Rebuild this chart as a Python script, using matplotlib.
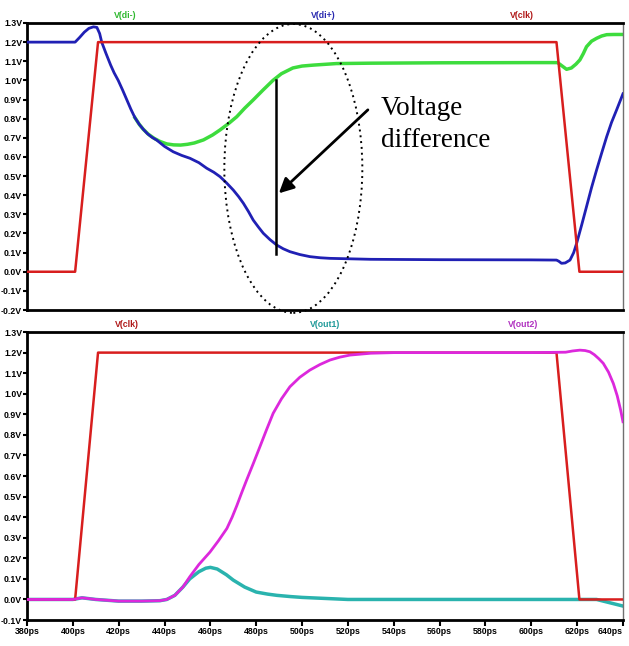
import numpy as np
import matplotlib
matplotlib.use("Agg")
import matplotlib.pyplot as plt
from matplotlib.patches import Ellipse

# clock (same in both panels)
t_clk = [380, 401, 411, 611, 621, 640]
v_clk = [0.0, 0.0, 1.2, 1.2, 0.0, 0.0]

# V(di+) blue
t_dip = [380, 401, 403, 405, 407, 409, 410.5, 411.7, 412.6, 414.5, 416.5, 418, 419.8,
         421.7, 423.5, 425.3, 427.1, 429, 430.7, 432.5, 434.5, 436.6, 440, 443.8,
         447.5, 451.1, 455, 458.4, 461.5, 464.2, 467, 470, 472.3, 474.4, 476.6, 478.7,
         481, 483.1, 486, 488.9, 491.8, 494.7, 499, 503.4, 508, 512.2, 530, 560, 600,
         611, 612, 613.2, 614.8, 616.9, 618.5, 619.8, 622, 624.1, 626.3, 628.5, 630.7,
         632.9, 635, 637.2, 640]
v_dip = [1.2, 1.2, 1.225, 1.252, 1.272, 1.28, 1.277, 1.245, 1.2, 1.14, 1.08, 1.04, 1.0,
         0.95, 0.9, 0.85, 0.805, 0.77, 0.745, 0.722, 0.703, 0.688, 0.655, 0.627,
         0.608, 0.593, 0.57, 0.541, 0.52, 0.497, 0.465, 0.427, 0.393, 0.358, 0.315, 0.27,
         0.233, 0.201, 0.168, 0.14, 0.12, 0.105, 0.09, 0.079, 0.073, 0.07, 0.065, 0.063, 0.062,
         0.061, 0.055, 0.044, 0.046, 0.061, 0.1, 0.149, 0.245, 0.34, 0.44, 0.532, 0.62,
         0.706, 0.78, 0.845, 0.93]

# V(di-) green (hidden under V(di+) before ~430ps)
t_dim = [427.1, 429, 430.7, 433, 435.5, 438, 441, 444, 447, 450, 453, 457, 461, 464.2,
         468, 471.5, 475, 478.7, 483, 487.3, 491, 496, 500, 505, 515, 530, 560, 600,
         611.5, 613.5, 615.4, 617.5, 619.5, 621.2, 622.7, 624.1, 626.3, 628.5, 630.7,
         632.9, 636, 640]
v_dim = [0.805, 0.77, 0.745, 0.718, 0.697, 0.681, 0.668, 0.663, 0.662, 0.666, 0.673, 0.689,
         0.715, 0.741, 0.775, 0.81, 0.855, 0.898, 0.95, 1.0, 1.035, 1.065, 1.075, 1.08,
         1.088, 1.09, 1.092, 1.093, 1.093, 1.075, 1.058, 1.065, 1.085, 1.107, 1.14, 1.176,
         1.205, 1.22, 1.232, 1.239, 1.24, 1.24]

# V(out2) magenta
t_out2 = [380, 400, 404, 410, 420, 430, 438, 441, 444.5, 448, 451, 455, 459.8, 463.5,
          467.2, 469.5, 471.5, 473.7, 475.8, 478.7, 481.6, 484.5, 487.4, 491, 494.7,
          499, 503.4, 507.8, 512.2, 516.5, 520.9, 530, 540, 560, 600, 615, 618, 621.2,
          623.5, 625.6, 627.5, 629.5, 631.4, 633.7, 635.8, 637.5, 639, 640]
v_out2 = [0.0, 0.0, 0.008, 0.0, -0.008, -0.008, -0.006, 0.0, 0.02, 0.06, 0.11, 0.17,
          0.23, 0.285, 0.345, 0.4, 0.455, 0.52, 0.58, 0.66, 0.742, 0.825, 0.905, 0.975,
          1.034, 1.08, 1.115, 1.142, 1.164, 1.178, 1.188, 1.197, 1.2, 1.2, 1.2, 1.202,
          1.208, 1.212, 1.21, 1.204, 1.19, 1.17, 1.148, 1.105, 1.05, 0.99, 0.92, 0.864]

# V(out1) teal
t_out1 = [380, 400, 404, 410, 420, 430, 438, 441, 444.5, 448, 451, 455, 458, 460,
          463, 467, 470, 475, 480, 485, 489, 495, 500, 510, 520, 560, 600, 628.5, 640]
v_out1 = [0.0, 0.0, 0.008, 0.0, -0.008, -0.008, -0.006, 0.0, 0.02, 0.06, 0.1, 0.135,
          0.152, 0.156, 0.148, 0.12, 0.094, 0.06, 0.036, 0.026, 0.02, 0.014, 0.01,
          0.005, 0.0, 0.0, 0.0, 0.0, -0.032]

top_ticks = np.round(np.arange(-0.2, 1.31, 0.1), 1)
bot_ticks = np.round(np.arange(-0.1, 1.31, 0.1), 1)
x_ticks = list(range(380, 641, 20))

RED = "#d81e1e"
BLUE = "#2020b4"
GREEN = "#3ddc3d"
TEAL = "#2ab3ae"
MAG = "#dc28dc"

tick_font = {"family": ["Liberation Sans Narrow", "Liberation Sans", "DejaVu Sans"],
             "weight": "bold", "size": 6.3}


def style_axes(ax, yticks):
    ax.set_xlim(380, 640)
    ax.set_ylim(yticks[0], yticks[-1])
    ax.set_yticks(yticks)
    ax.set_yticklabels([f"{v:.1f}V" for v in yticks], fontdict=tick_font)
    ax.tick_params(axis="y", direction="out", length=3, width=1.5, pad=0.5)
    for s in ["top", "left", "bottom"]:
        ax.spines[s].set_linewidth(2)
        ax.spines[s].set_color("black")
    ax.spines["right"].set_linewidth(1)
    ax.spines["right"].set_color("#707070")


fig = plt.figure(figsize=(6.29, 6.46), dpi=100)
ax1 = fig.add_axes([0.0429, 0.5201, 0.9475, 0.4443])
ax2 = fig.add_axes([0.0429, 0.0402, 0.9475, 0.4458])

# top panel
ax1.plot(t_dim, v_dim, color=GREEN, lw=2.5, zorder=2)
ax1.plot(t_dip, v_dip, color=BLUE, lw=2, zorder=3)
ax1.plot(t_clk, v_clk, color=RED, lw=1.8, zorder=4)
style_axes(ax1, top_ticks)
ax1.set_xticks([])

lab_font = dict(family=["Liberation Sans Narrow", "Liberation Sans", "DejaVu Sans"],
                weight="bold", size=6.3, ha="center", va="bottom")
ax1.text(0.165, 1.012, "V(di-)", color="#2fb82f", transform=ax1.transAxes, **lab_font)
ax1.text(0.497, 1.012, "V(di+)", color="#2a2ab0", transform=ax1.transAxes, **lab_font)
ax1.text(0.83, 1.012, "V(clk)", color="#b01818", transform=ax1.transAxes, **lab_font)

# annotation: ellipse, vertical line, arrow, text
ell = Ellipse((496.2, 0.54), 60.2, 1.51, fill=False, ls=(0, (1, 2)), lw=1.4,
              color="black", clip_on=False, zorder=5)
ax1.add_patch(ell)
ax1.plot([488.6, 488.6], [0.093, 1.0], color="black", lw=1.8, zorder=6)
ax1.annotate("", xy=(489.0, 0.40), xytext=(529.6, 0.856),
             arrowprops=dict(arrowstyle="-|>", mutation_scale=22, lw=2, color="black"),
             zorder=6)
ax1.text(534.4, 0.819, "Voltage", fontsize=19.5, family="Liberation Serif",
         va="baseline", ha="left")
ax1.text(534.4, 0.652, "difference", fontsize=19.5, family="Liberation Serif",
         va="baseline", ha="left")

# bottom panel
ax2.plot(t_out1, v_out1, color=TEAL, lw=2.5, zorder=2)
ax2.plot(t_clk, v_clk, color=RED, lw=1.8, zorder=3)
ax2.plot(t_out2, v_out2, color=MAG, lw=2, zorder=4)
style_axes(ax2, bot_ticks)
ax2.set_xticks(x_ticks)
ax2.set_xticklabels([f"{x}ps" for x in x_ticks], fontdict=tick_font)
ax2.get_xticklabels()[-1].set_horizontalalignment("right")
ax2.tick_params(axis="x", direction="out", length=4, width=1.5, pad=1)

ax2.text(0.167, 1.012, "V(clk)", color="#b01818", transform=ax2.transAxes, **lab_font)
ax2.text(0.5, 1.012, "V(out1)", color="#1f9a99", transform=ax2.transAxes, **lab_font)
ax2.text(0.832, 1.012, "V(out2)", color="#b030c0", transform=ax2.transAxes, **lab_font)

fig.savefig("out.png", dpi=100)
